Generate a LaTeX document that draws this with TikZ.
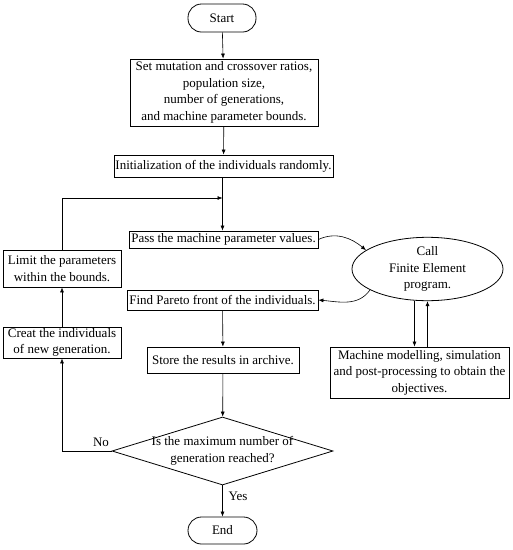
\documentclass[tikz,border=0pt]{standalone}
\usepackage{fontspec}
\setmainfont{Liberation Serif}
\usetikzlibrary{shapes.geometric,arrows.meta}
\begin{document}
\begin{tikzpicture}[x=1pt,y=-1pt,
  every node/.style={font=\fontsize{13}{16.5}\selectfont, inner sep=0pt, align=center},
  box/.style={draw, line width=0.8pt, rectangle},
  term/.style={draw, line width=0.8pt, rectangle, rounded corners=13.5pt},
  arr/.style={line width=0.6pt, -{Latex[length=5pt,width=4pt]}},
  ln/.style={line width=0.6pt}]
\useasboundingbox (0,0) rectangle (513,550);
\node[term, minimum width=68pt, minimum height=28pt] (start) at (222,18) {Start};
\node[box, minimum width=188pt, minimum height=67pt] (set) at (224,92.5) {Set mutation and crossover ratios,\\population size,\\number of generations,\\and machine parameter bounds.};
\node[box, minimum width=219pt, minimum height=22pt] (init) at (223.5,166) {Initialization of the individuals randomly.};
\node[box, minimum width=189pt, minimum height=17pt] (pass) at (223.5,239.5) {Pass the machine parameter values.};
\node[box, minimum width=118pt, minimum height=37pt] (limit) at (62,268.5) {Limit the parameters\\within the bounds.};
\node[draw, ellipse, line width=0.8pt, minimum width=151pt, minimum height=52pt] (fe) at (427.5,269) {Call\\Finite Element\\program.};
\node[box, minimum width=191pt, minimum height=20pt] (find) at (222.5,300) {Find Pareto front of the individuals.};
\node[box, minimum width=118pt, minimum height=31pt] (creat) at (62,342.5) {Creat the individuals\\of new generation.};
\node[box, minimum width=152pt, minimum height=26pt] (store) at (223,360) {Store the results in archive.};
\node[box, minimum width=179pt, minimum height=51pt] (machine) at (419.5,372.5) {Machine modelling, simulation\\and post-processing to obtain the\\objectives.};
\node[draw, diamond, line width=0.8pt, aspect=3.25, inner sep=-4.5pt, minimum width=221pt, minimum height=68pt] (dec) at (222.5,451) {Is the maximum number of\\generation reached?};
\node[term, minimum width=69pt, minimum height=27pt] (end) at (222.5,530.5) {End};
\node (no) at (101,442) {No};
\node (yes) at (238,496) {Yes};
\coordinate (j) at (222.5,198);
\draw[arr] (start) -- (set);
\draw[arr] (set) -- (init);
\draw[arr] (init.south -| j) -- (pass.north -| j);
\draw[arr] (limit.north) -- (limit.north |- j) -- (j);
\draw[arr] (pass.east) to[out=25,in=140] (fe.163);
\draw[arr] (fe.200) to[out=235,in=-5] (find.east);
\draw[arr] ([xshift=-13pt]fe.south) -- ([xshift=-13pt]fe.south |- machine.north);
\draw[arr] (machine.north -| fe.south) -- (fe.south);
\draw[arr] (find) -- (store);
\draw[arr] (store) -- (dec);
\draw[arr] (dec.west) -- (creat.south |- dec.west) -- (creat.south);
\draw[arr] (creat) -- (limit);
\draw[arr] (dec) -- (end);
\end{tikzpicture}
\end{document}
